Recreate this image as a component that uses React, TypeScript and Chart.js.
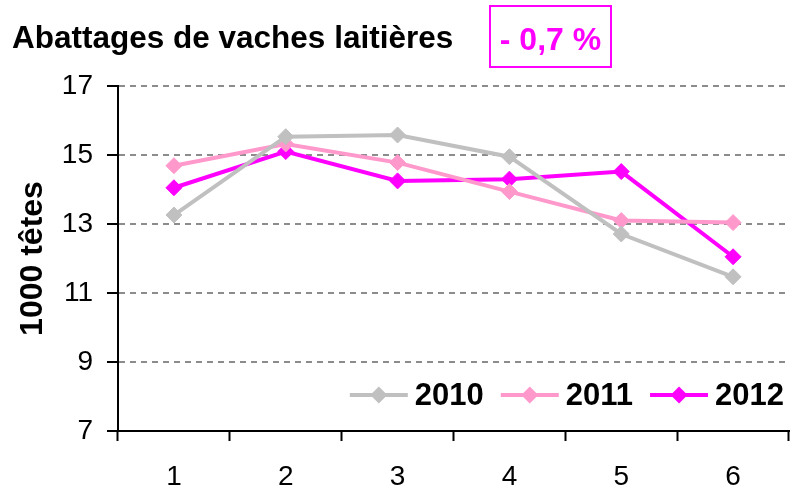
import React, { useEffect, useRef } from 'react';
import { Chart, registerables } from 'chart.js';

Chart.register(...registerables);

const categories = ['1', '2', '3', '4', '5', '6'];
const values2010 = [13.26, 15.53, 15.58, 14.95, 12.71, 11.47];
const values2011 = [14.69, 15.32, 14.78, 13.94, 13.1, 13.04];
const values2012 = [14.05, 15.1, 14.25, 14.3, 14.52, 12.05];
const seriesLabels = ['2010', '2011', '2012'];
const seriesColors = ['#C0C0C0', '#FF99CC', '#FF00FF'];
const yMin = 7;
const yMax = 17;
const yStep = 2;
const titleText = 'Abattages de vaches laitières';
const badgeText = '- 0,7 %';
const yAxisTitle = '1000 têtes';

const FONT = '"Liberation Sans", Arial, sans-serif';

const titlePlugin = {
  id: 'customTitle',
  afterDraw(chart: any) {
    const ctx = chart.ctx;
    ctx.save();
    ctx.font = `bold 31.5px ${FONT}`;
    ctx.fillStyle = '#000000';
    ctx.textBaseline = 'alphabetic';
    ctx.textAlign = 'left';
    ctx.fillText(titleText, 12, 48);
    ctx.strokeStyle = '#FF00FF';
    ctx.lineWidth = 2;
    ctx.strokeRect(490, 6, 121, 61);
    ctx.fillStyle = '#FF00FF';
    ctx.textAlign = 'center';
    ctx.font = `bold 32px ${FONT}`;
    ctx.fillText(badgeText, 550.5, 50);
    ctx.restore();
  },
};

const legendPlugin = {
  id: 'customLegend',
  afterDraw(chart: any) {
    const ctx = chart.ctx;
    const area = chart.chartArea;
    ctx.save();
    ctx.font = `bold 31px ${FONT}`;
    const lineLen = 58;
    const gapText = 7;
    const gapItem = 17;
    const widths = seriesLabels.map((l) => ctx.measureText(l).width);
    const total = widths.reduce((a, w) => a + lineLen + gapText + w, 0) + gapItem * (seriesLabels.length - 1);
    let x = area.right - 5 - total;
    const y = area.bottom - 36;
    seriesLabels.forEach((label, i) => {
      ctx.strokeStyle = seriesColors[i];
      ctx.lineWidth = 4;
      ctx.beginPath();
      ctx.moveTo(x, y);
      ctx.lineTo(x + lineLen, y);
      ctx.stroke();
      const cx = x + lineLen / 2;
      ctx.fillStyle = seriesColors[i];
      ctx.beginPath();
      ctx.moveTo(cx, y - 8.5);
      ctx.lineTo(cx + 8.5, y);
      ctx.lineTo(cx, y + 8.5);
      ctx.lineTo(cx - 8.5, y);
      ctx.closePath();
      ctx.fill();
      ctx.fillStyle = '#000000';
      ctx.textBaseline = 'middle';
      ctx.textAlign = 'left';
      ctx.fillText(label, x + lineLen + gapText, y + 1);
      x += lineLen + gapText + widths[i] + gapItem;
    });
    ctx.restore();
  },
};

export default function App() {
  const canvasRef = useRef<HTMLCanvasElement | null>(null);

  useEffect(() => {
    document.body.style.margin = '0';
    const canvas = canvasRef.current;
    if (!canvas) return;
    const seriesValues = [values2010, values2011, values2012];
    const chart = new Chart(canvas, {
      type: 'line',
      data: {
        labels: categories,
        datasets: seriesLabels.map((label, i) => ({
          label,
          data: seriesValues[i],
          borderColor: seriesColors[i],
          backgroundColor: seriesColors[i],
          borderWidth: 4,
          pointStyle: 'rectRot',
          pointRadius: 8,
          pointBorderWidth: 1,
          pointBackgroundColor: seriesColors[i],
          pointBorderColor: seriesColors[i],
          tension: 0,
          fill: false,
        })),
      },
      options: {
        responsive: false,
        animation: false,
        layout: { padding: { top: 86, right: 0, left: 0, bottom: 0 } },
        plugins: {
          legend: { display: false },
          title: { display: false },
          tooltip: { enabled: false },
        },
        scales: {
          x: {
            type: 'category',
            offset: true,
            grid: {
              offset: true,
              drawOnChartArea: false,
              drawTicks: true,
              tickLength: 10,
              tickColor: '#000000',
              tickWidth: 2,
            },
            border: { display: true, color: '#000000', width: 2 },
            ticks: {
              color: '#000000',
              font: { family: FONT, size: 28 },
              padding: 19,
              maxRotation: 0,
            },
            afterFit(scale: any) {
              scale.height = 58;
            },
          },
          y: {
            min: yMin,
            max: yMax,
            ticks: {
              stepSize: yStep,
              color: '#000000',
              font: { family: FONT, size: 28 },
              padding: 14,
            },
            grid: {
              color: '#8C8C8C',
              lineWidth: 2,
              drawTicks: true,
              tickLength: 11,
              tickColor: '#000000',
              tickWidth: 2,
              tickBorderDash: [],
            },
            border: { display: true, color: '#000000', width: 2, dash: [6, 5] },
            title: {
              display: true,
              text: yAxisTitle,
              color: '#000000',
              font: { family: FONT, size: 32, weight: 'bold' },
              padding: { top: 14, bottom: 0 },
            },
            afterFit(scale: any) {
              scale.width = 118;
            },
          },
        },
      },
      plugins: [titlePlugin, legendPlugin],
    });
    return () => chart.destroy();
  }, []);

  return <canvas ref={canvasRef} width={798} height={489} style={{ display: 'block' }} />;
}
